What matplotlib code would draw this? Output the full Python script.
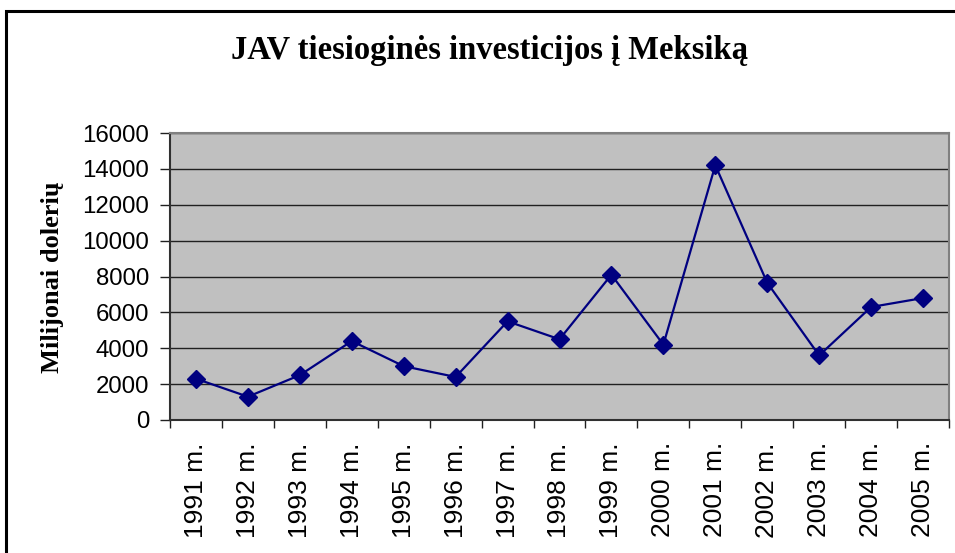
import matplotlib
matplotlib.use("Agg")
import matplotlib.pyplot as plt
from matplotlib.patches import Rectangle
import numpy as np

years = ["1991 m.", "1992 m.", "1993 m.", "1994 m.", "1995 m.", "1996 m.", "1997 m.",
         "1998 m.", "1999 m.", "2000 m.", "2001 m.", "2002 m.", "2003 m.", "2004 m.", "2005 m."]
invest = [2300, 1300, 2500, 4400, 3000, 2400, 5500, 4500, 8100, 4200, 14200, 7650, 3600, 6300, 6800]
yticks = [0, 2000, 4000, 6000, 8000, 10000, 12000, 14000, 16000]

fig = plt.figure(figsize=(9.55, 5.53), dpi=100)
fig.patches.append(Rectangle((6 / 955, -0.1), 1.2, (553 - 11) / 553 + 0.1,
                             transform=fig.transFigure, fill=False, ec="black", lw=2.2))

ax = fig.add_axes([170 / 955, 1 - 420 / 553, (949 - 170) / 955, (420 - 133) / 553])
ax.set_facecolor("#C0C0C0")

x = np.arange(len(years))
ax.plot(x, invest, color="#000080", lw=1.6, marker="D", ms=9, mfc="#000080", mec="#000080")

ax.set_xlim(-0.5, len(years) - 0.5)
ax.set_ylim(0, 16000)
ax.set_yticks(yticks)
ax.set_yticklabels([str(v) for v in yticks], fontfamily="Liberation Sans", fontsize=17.3)
ax.yaxis.grid(True, color="#202020", lw=1)
ax.set_axisbelow(True)

ax.set_xticks(x)
ax.set_xticklabels(years, rotation=90, fontfamily="Liberation Sans", fontsize=19)
ax.set_xticks(np.arange(-0.5, len(years)), minor=True)
ax.tick_params(axis="x", which="major", length=0, pad=16)
ax.tick_params(axis="x", which="minor", length=6, width=1, color="#202020")
ax.tick_params(axis="y", length=7, width=1, color="#202020", pad=8)

for s in ["top", "right"]:
    ax.spines[s].set_color("#808080")
    ax.spines[s].set_linewidth(1.5)
for s in ["left", "bottom"]:
    ax.spines[s].set_color("#303030")
    ax.spines[s].set_linewidth(1.5)

fig.text(53 / 955, 1 - 277 / 553, "Milijonai dolerių", rotation=90,
         fontfamily="Liberation Serif", fontweight="bold", fontsize=19,
         ha="center", va="center")
fig.text(489 / 955, 1 - 50 / 553, "JAV tiesioginės investicijos į Meksiką",
         fontfamily="Liberation Serif", fontweight="bold", fontsize=23.5,
         ha="center", va="center")

fig.savefig("out.png", dpi=100)
